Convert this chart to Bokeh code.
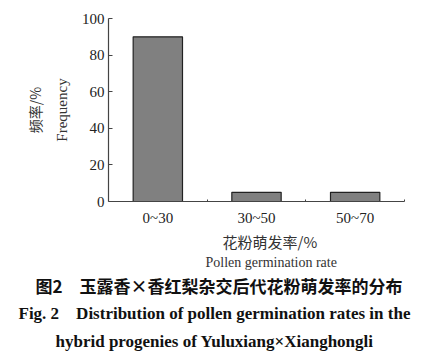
from bokeh.plotting import figure
from bokeh.models import Range1d, FixedTicker, Title, ColumnDataSource
from bokeh.embed import file_html
from bokeh.resources import INLINE

categories = ["0~30", "30~50", "50~70"]
frequency = [90, 5, 5]
y_ticks = [0, 20, 40, 60, 80, 100]

W, H = 430, 356
FL, FT = 108, 18
FR = W - 404
FB = H - 201

p = figure(width=W, height=H, output_backend="svg", toolbar_location=None,
           x_range=Range1d(0, len(categories)), y_range=Range1d(0, 100),
           min_border_left=FL, min_border_right=FR, min_border_top=FT, min_border_bottom=FB)
p.outline_line_color = None
p.xgrid.visible = False
p.ygrid.visible = False
p.background_fill_color = "white"
p.border_fill_color = "white"

centers = [i + 0.5 for i in range(len(categories))]
src = ColumnDataSource(dict(x=centers, top=frequency))
p.vbar(x="x", top="top", width=0.5, bottom=0, source=src,
       fill_color="#808080", line_color="#222222", line_width=1.2)

axis_color = "#444444"
serif = "Liberation Serif"
cjk = "Noto Sans CJK SC"

yax = p.yaxis[0]
yax.ticker = FixedTicker(ticks=y_ticks)
yax.major_tick_in = 4
yax.major_tick_out = 0
yax.minor_tick_line_color = None
yax.axis_line_color = axis_color
yax.axis_line_width = 1.2
yax.major_tick_line_color = axis_color
yax.major_label_text_font = serif
yax.major_label_text_font_size = "15px"
yax.major_label_text_color = "#222222"
yax.major_label_standoff = 4

xax = p.xaxis[0]
xax.ticker = FixedTicker(ticks=centers, minor_ticks=[1, 2, 3])
xax.major_label_overrides = {c: lab for c, lab in zip(centers, categories)}
xax.major_tick_line_color = None
xax.major_tick_in = 0
xax.major_tick_out = 0
xax.minor_tick_in = 2
xax.minor_tick_out = 0
xax.minor_tick_line_color = axis_color
xax.axis_line_color = axis_color
xax.axis_line_width = 1.2
xax.major_label_text_font = serif
xax.major_label_text_font_size = "15px"
xax.major_label_text_color = "#222222"
xax.major_label_standoff = 8

def add_title(text, place, font, size, style="normal", color="#333333",
              align="center", offset=0, standoff=2):
    t = Title(text=text, align=align, offset=offset, standoff=standoff,
              text_font=font, text_font_size=size, text_font_style=style,
              text_color=color)
    p.add_layout(t, place)

# y axis labels (closest first)
add_title("Frequency", "left", serif, "15px", standoff=18)
add_title("频率/%", "left", cjk, "14px", standoff=-5)

# x axis labels and caption (closest first); left aligned, offset from frame left
add_title("花粉萌发率/%", "below", cjk, "15px", align="left", offset=222 - FL, standoff=1)
add_title("Pollen germination rate", "below", serif, "14px", align="left", offset=205 - FL, standoff=0)
add_title("图2\u3000玉露香×香红梨杂交后代花粉萌发率的分布", "below", cjk, "17px",
          style="bold", color="#111111", align="left", offset=35 - FL, standoff=2)
add_title("Fig. 2\u2003Distribution of pollen germination rates in the", "below", serif, "17px",
          style="bold", color="#111111", align="left", offset=18 - FL, standoff=6)
add_title("hybrid progenies of Yuluxiang×Xianghongli", "below", serif, "17px",
          style="bold", color="#111111", align="left", offset=55 - FL, standoff=8)

open("out.html", "w").write(file_html(p, INLINE))
